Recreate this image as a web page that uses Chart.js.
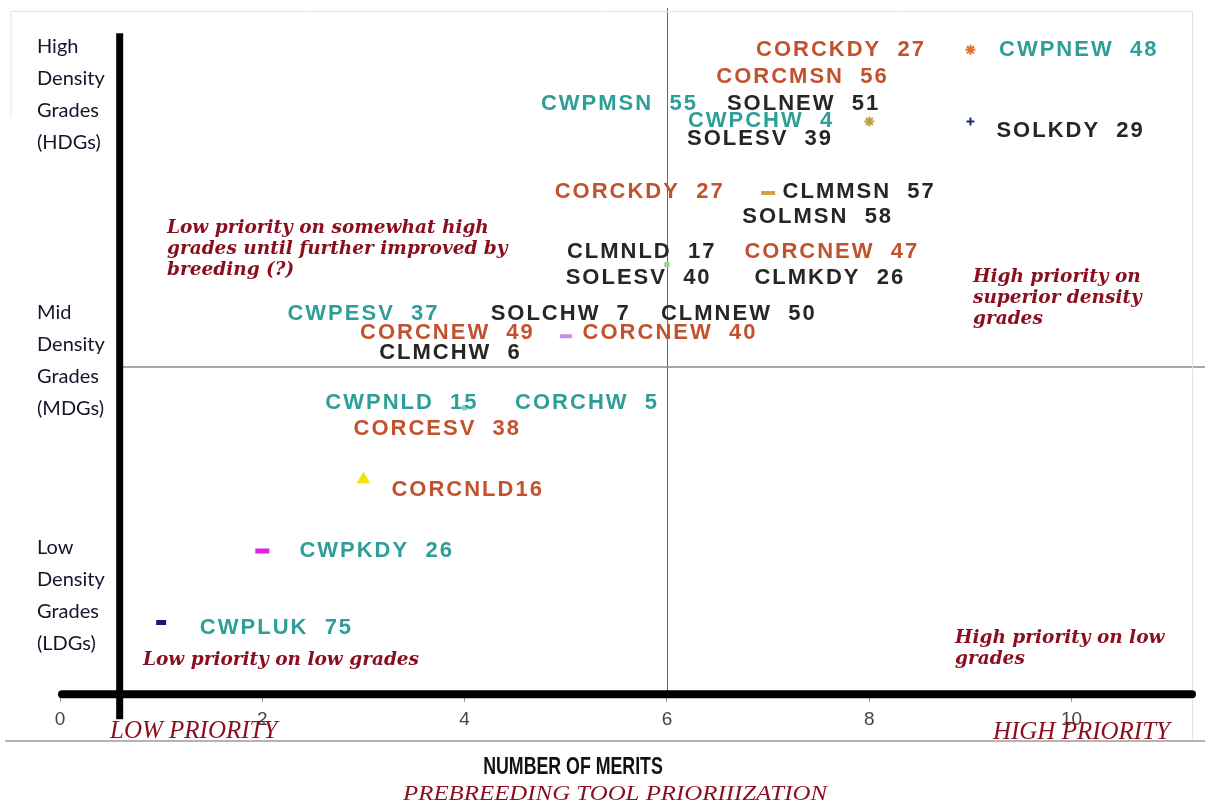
<!DOCTYPE html>
<html>
<head>
<meta charset="utf-8">
<script src="https://cdn.jsdelivr.net/npm/chart.js@4.4.1/dist/chart.umd.min.js"></script>
<style>
  body { margin: 0; background: #fff; }
  #meritChart { display: block; }
</style>
</head>
<body>
<canvas id="meritChart" width="1205" height="801"></canvas>
<script>
// markers: number of merits vs density grade level
var meritX = [1, 2, 3, 4, 5, 6, 7, 8, 9, 9];
var densityY = [1, 2, 3, 4, 5, 6, 7, 8, 8, 9];
var markerStyle = ['line', 'line', 'triangle', 'rect', 'line', 'rect', 'line', 'star', 'cross', 'star'];
var markerColor = ['#1a1a70', '#e020e0', '#f2e400', '#7fd0d0', '#c58be8', '#8fd88f', '#d4a040', '#b8a040', '#1a2a70', '#e07030'];
var markerSize = [5, 7, 7, 3, 6, 3, 7, 5, 4, 5];
var markerWidth = [5, 5, 1, 1, 4, 1, 4, 2, 2, 2];

// grade labels, placed in data space (centre of text)
var gradeText = ['CORCKDY  27', 'CWPNEW  48', 'CORCMSN  56', 'CWPMSN  55', 'SOLNEW  51', 'CWPCHW  4',
  'SOLESV  39', 'SOLKDY  29', 'CORCKDY  27', 'CLMMSN  57', 'SOLMSN  58', 'CLMNLD  17', 'CORCNEW  47',
  'SOLESV  40', 'CLMKDY  26', 'CWPESV  37', 'SOLCHW  7', 'CLMNEW  50', 'CORCNEW  49', 'CORCNEW  40',
  'CLMCHW  6', 'CWPNLD  15', 'CORCHW  5', 'CORCESV  38', 'CORCNLD16', 'CWPKDY  26', 'CWPLUK  75'];
var gradeX = [7.72, 10.07, 7.34, 5.53, 7.35, 6.93, 6.92, 9.99, 5.73, 7.9, 7.49, 5.75, 7.63,
  5.72, 7.61, 3.0, 4.95, 6.71, 3.83, 6.03, 3.86, 3.38, 5.21, 3.73, 4.03, 3.13, 2.14];
var gradeY = [9.0, 9.0, 8.62, 8.25, 8.25, 8.0, 7.75, 7.87, 7.02, 7.02, 6.67, 6.17, 6.17,
  5.82, 5.82, 5.31, 5.31, 5.31, 5.05, 5.05, 4.77, 4.07, 4.07, 3.71, 2.85, 2.0, 0.92];
var gradeCrop = ['COR', 'CWP', 'COR', 'CWP', 'SOL', 'CWP', 'SOL', 'SOL', 'COR', 'CLM', 'SOL', 'CLM', 'COR',
  'SOL', 'CLM', 'CWP', 'SOL', 'CLM', 'COR', 'COR', 'CLM', 'CWP', 'CWP', 'COR', 'COR', 'CWP', 'CWP'];
var cropColor = { CWP: '#2e9e98', COR: '#c2522e', SOL: '#262626', CLM: '#262626' };

var xTicks = [0, 2, 4, 6, 8, 10];
var meritDivide = 6;       // vertical divider
var densityDivide = 4.57;  // horizontal divider

var gradeGroups = [
  { lines: ['High', 'Density', 'Grades', '(HDGs)'], top: 47 },
  { lines: ['Mid', 'Density', 'Grades', '(MDGs)'], top: 313 },
  { lines: ['Low', 'Density', 'Grades', '(LDGs)'], top: 548 }
];
var notes = [
  { lines: ['Low priority on somewhat high', 'grades until further improved by', 'breeding (?)'], x: 167, y: 228 },
  { lines: ['High priority on', 'superior density', 'grades'], x: 973, y: 277 },
  { lines: ['High priority on low', 'grades'], x: 955, y: 638 },
  { lines: ['Low priority on low grades'], x: 143, y: 660 }
];

var overlay = {
    id: 'overlay',
    beforeDatasetsDraw: function (chart) {
        var ctx = chart.ctx, xs = chart.scales.x, ys = chart.scales.y, a = chart.chartArea;
        ctx.save();
        // quadrant dividers
        ctx.strokeStyle = '#666';
        ctx.lineWidth = 1;
        var px = Math.round(xs.getPixelForValue(meritDivide)) + 0.5;
        ctx.beginPath();
        ctx.moveTo(px, 8);
        ctx.lineTo(px, a.bottom);
        ctx.stroke();
        ctx.strokeStyle = '#8a8a8a';
        ctx.lineWidth = 1.5;
        var py = ys.getPixelForValue(densityDivide);
        ctx.beginPath();
        ctx.moveTo(xs.getPixelForValue(0.6), py);
        ctx.lineTo(1205, py);
        ctx.stroke();
        ctx.restore();
    },
    afterDraw: function (chart) {
        var ctx = chart.ctx, xs = chart.scales.x, ys = chart.scales.y, a = chart.chartArea;
        ctx.save();
        // faint frame
        ctx.strokeStyle = '#e4e4e4';
        ctx.lineWidth = 1;
        ctx.beginPath();
        ctx.moveTo(11, 118);
        ctx.lineTo(11, 11.5);
        ctx.lineTo(1192.5, 11.5);
        ctx.lineTo(1192.5, 740);
        ctx.stroke();
        ctx.strokeStyle = '#b4b4b4';
        ctx.lineWidth = 2;
        ctx.beginPath();
        ctx.moveTo(5, 741);
        ctx.lineTo(1205, 741);
        ctx.stroke();

        // thick axes
        ctx.strokeStyle = '#000';
        ctx.lineCap = 'round';
        ctx.lineWidth = 8;
        ctx.beginPath();
        ctx.moveTo(a.left + 2, a.bottom);
        ctx.lineTo(a.right - 1, a.bottom);
        ctx.stroke();
        ctx.lineCap = 'butt';
        ctx.lineWidth = 7;
        var vx = xs.getPixelForValue(0.59);
        ctx.beginPath();
        ctx.moveTo(vx, ys.getPixelForValue(9.23));
        ctx.lineTo(vx, a.bottom + 25);
        ctx.stroke();

        // grade labels
        ctx.font = 'bold 22px "Liberation Sans", Arial, sans-serif';
        ctx.letterSpacing = '2px';
        ctx.textAlign = 'center';
        ctx.textBaseline = 'middle';
        for (var i = 0; i < gradeText.length; i++) {
            ctx.fillStyle = cropColor[gradeCrop[i]];
            ctx.fillText(gradeText[i], xs.getPixelForValue(gradeX[i]), ys.getPixelForValue(gradeY[i]));
        }
        ctx.letterSpacing = '0px';

        // density group captions
        ctx.textAlign = 'left';
        ctx.fillStyle = '#14142a';
        ctx.font = '20px Lato, "Liberation Sans", sans-serif';
        gradeGroups.forEach(function (g) {
            g.lines.forEach(function (t, k) {
                ctx.fillText(t, 37, g.top + k * 32);
            });
        });

        // quadrant notes
        ctx.fillStyle = '#8b0e1e';
        ctx.font = 'italic bold 18.5px "DejaVu Serif", serif';
        notes.forEach(function (n) {
            n.lines.forEach(function (t, k) {
                ctx.fillText(t, n.x, n.y + k * 21);
            });
        });

        ctx.font = 'italic 25px "Liberation Serif", serif';
        ctx.fillText('LOW PRIORITY', 110, 731);
        ctx.textAlign = 'right';
        ctx.fillText('HIGH PRIORITY', 1170, 732);

        ctx.save();
        ctx.textAlign = 'center';
        ctx.font = 'italic 22px "Liberation Serif", serif';
        ctx.translate(615, 794);
        ctx.scale(1.13, 1);
        ctx.fillText('PREBREEDING TOOL PRIORIIIZATION', 0, 0);
        ctx.restore();

        // condensed axis title
        ctx.textAlign = 'center';
        ctx.fillStyle = '#111';
        ctx.font = 'bold 24px "Liberation Sans", Arial, sans-serif';
        ctx.translate(573, 767);
        ctx.scale(0.74, 1);
        ctx.fillText('NUMBER OF MERITS', 0, 0);
        ctx.restore();
    }
};

new Chart(document.getElementById('meritChart'), {
    type: 'scatter',
    data: {
        datasets: [{
            label: 'Grades',
            data: meritX.map(function (x, i) { return { x: x, y: densityY[i] }; }),
            pointStyle: markerStyle,
            pointBackgroundColor: markerColor,
            pointBorderColor: markerColor,
            pointRadius: markerSize,
            pointBorderWidth: markerWidth,
            pointHoverRadius: markerSize
        }]
    },
    options: {
        responsive: false,
        animation: false,
        events: [],
        layout: { padding: { left: 60, right: 0, top: 14, bottom: 64 } },
        plugins: { legend: { display: false }, tooltip: { enabled: false } },
        scales: {
            x: {
                type: 'linear',
                min: 0,
                max: 11.2,
                afterBuildTicks: function (scale) {
                    scale.ticks = xTicks.map(function (v) { return { value: v }; });
                },
                ticks: { color: '#444', font: { size: 19, family: '"Liberation Sans", Arial' }, padding: 6 },
                grid: { drawOnChartArea: false, drawTicks: true, tickLength: 8, color: '#999' },
                border: { display: false }
            },
            y: {
                display: false,
                min: 0,
                max: 9.5
            }
        }
    },
    plugins: [overlay]
});
</script>
</body>
</html>
